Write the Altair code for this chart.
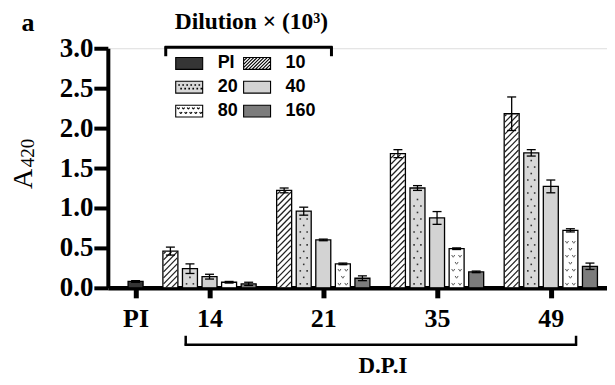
import altair as alt
import pandas as pd

# ---------------- data ----------------
groups = ["14", "21", "35", "49"]
dilutions = ["PI", "10", "20", "40", "80", "160"]
pi_value = 0.08
pi_error = 0.01
values = {
    "10": [0.46, 1.22, 1.68, 2.18],
    "20": [0.24, 0.96, 1.25, 1.69],
    "40": [0.14, 0.60, 0.875, 1.27],
    "80": [0.07, 0.30, 0.49, 0.72],
    "160": [0.05, 0.12, 0.20, 0.27],
}
errors = {
    "10": [0.05, 0.03, 0.05, 0.21],
    "20": [0.06, 0.05, 0.03, 0.04],
    "40": [0.03, 0.01, 0.08, 0.08],
    "80": [0.01, 0.01, 0.01, 0.02],
    "160": [0.02, 0.03, 0.01, 0.04],
}
fill_colors = ["#353535", "#ffffff", "#d8d8d8", "#d3d3d3", "#ffffff", "#7c7c7c"]

rows = [{"dil": "PI", "gi": -1, "di": 0, "value": pi_value, "err": pi_error}]
for d_i, d in enumerate(dilutions[1:]):
    for g_i, g in enumerate(groups):
        rows.append({"dil": d, "gi": g_i, "di": d_i, "value": values[d][g_i], "err": errors[d][g_i]})
df = pd.DataFrame(rows)

# ---------------- layout constants ----------------
W, H = 500, 240
XDOM = [0.15, 4.45]
PXU = W / (XDOM[1] - XDOM[0])   # px per x unit
PYU = H / 3.0                    # px per y unit
BW = 15                          # bar width px
STEP = 0.172                     # bar spacing in x units
PI_POS = 0.35

serif = "Liberation Serif"
sans = "Liberation Sans"

base = alt.Chart(df).transform_calculate(
    x=f"datum.dil == 'PI' ? {PI_POS} : datum.gi + 1 + (datum.di - 2) * {STEP}",
    lo="datum.value - datum.err",
    hi="datum.value + datum.err",
)

xscale = alt.Scale(domain=XDOM, nice=False, zero=False)
yscale = alt.Scale(domain=[0, 3], nice=False)

label_expr = "datum.value < 0.5 ? 'PI' : " + str(["", *groups]) + "[round(datum.value)]"

xaxis = alt.Axis(
    values=[PI_POS, 1, 2, 3, 4], labelExpr=label_expr, grid=False,
    domainWidth=4.5, domainColor="black", tickWidth=5, tickSize=10, tickColor="black",
    labelFont=serif, labelFontWeight="bold", labelFontSize=26, labelColor="black",
    labelPadding=8, labelOverlap=False,
    title="D.P.I", titleFont=serif, titleFontWeight="bold",
    titleFontSize=23, titleColor="black", titleX=275, titleY=67,
)
yaxis = alt.Axis(
    values=[0, 0.5, 1, 1.5, 2, 2.5, 3], format=".1f", grid=False, labelOverlap=False,
    domainWidth=4, domainColor="black", tickWidth=4, tickSize=14, tickColor="black",
    labelFont=serif, labelFontWeight="bold", labelFontSize=27, labelColor="black",
    labelPadding=1, title=None,
)


def X(f):
    return alt.X(f, scale=xscale, axis=xaxis)


def Y(f):
    return alt.Y(f, scale=yscale, axis=yaxis)


fill_scale = alt.Scale(domain=dilutions, range=fill_colors)
stroke_scale = alt.Scale(domain=dilutions, range=["black"] * len(dilutions))


def rect_path(hw, hh):
    return f"M{-hw},{-hh}H{hw}V{hh}H{-hw}Z"


HW, HH = 1.0, 0.44


def hatch_path():
    p = rect_path(HW, HH)
    s = 0.25
    c = -HW - 2 * HH
    while c < HW:
        x0 = max(c, -HW)
        x1 = min(c + 2 * HH, HW)
        if x1 > x0:
            y0 = HH - (x0 - c)
            y1 = HH - (x1 - c)
            p += f"M{x0:.3f},{y0:.3f}L{x1:.3f},{y1:.3f}"
        c += s
    return p


def dots_path():
    p = rect_path(HW, HH)
    for r, yy in enumerate([-0.18, 0.09]):
        for i in range(6):
            xx = -0.77 + 0.3 * i + (0.15 if r else 0)
            p += f"M{xx:.3f},{yy:.3f}h0.04v0.04h-0.04Z"
    return p


def wave_path():
    p = rect_path(HW, HH)
    for r, yy in enumerate([-0.21, 0.12]):
        for i in range(5):
            xx = -0.8 + 0.37 * i + (0.18 if r else 0)
            if xx > HW - 0.12:
                continue
            p += f"M{xx - 0.085:.3f},{yy - 0.06:.3f}Q{xx:.3f},{yy + 0.15:.3f} {xx + 0.085:.3f},{yy - 0.06:.3f}"
    return p


shape_range = [rect_path(HW, HH), hatch_path(), dots_path(), rect_path(HW, HH), wave_path(), rect_path(HW, HH)]
shape_scale = alt.Scale(domain=dilutions, range=shape_range)

legend = alt.Legend(
    title="Dilution × (10³)", orient="none", legendX=67, legendY=-38,
    columns=2, direction="horizontal", titleFont=serif, titleFontWeight="bold",
    titleFontSize=23.5, titleColor="black", titlePadding=15,
    labelFont=sans, labelFontWeight="bold", labelFontSize=18, labelColor="black",
    labelOffset=14, symbolSize=729, symbolStrokeWidth=1.1,
    rowPadding=-2.5, columnPadding=2, padding=0, symbolOpacity=1,
)

bars = base.mark_bar(size=BW, stroke="black", strokeWidth=1.3).encode(
    x=X("x:Q"), y=Y("value:Q"),
    fill=alt.Fill("dil:N", scale=fill_scale, legend=legend),
)

legend_pts = base.transform_filter("false").mark_point(filled=True, opacity=1, strokeWidth=1.1).encode(
    x=X("x:Q"), y=Y("value:Q"),
    fill=alt.Fill("dil:N", scale=fill_scale, legend=legend),
    shape=alt.Shape("dil:N", scale=shape_scale, legend=legend),
    stroke=alt.Stroke("dil:N", scale=stroke_scale, legend=legend),
)

# hatch (10)
hatch = base.transform_filter("datum.dil == '10'").transform_calculate(
    h=f"datum.value * {PYU}",
).transform_calculate(
    ks=f"sequence(0, ceil((datum.h + {BW}) / 6) + 1)"
).transform_flatten(["ks"], as_=["k"]).transform_calculate(
    y0=f"datum.k * 6 - {BW - 1}",
).transform_calculate(
    t0="max(0, -datum.y0)", t1=f"min({BW - 1}, datum.h - datum.y0 - 0.7)",
).transform_filter("datum.t1 > datum.t0 + 0.3").transform_calculate(
    xa=f"datum.x + (datum.t0 - {(BW - 1) / 2}) / {PXU}",
    ya=f"(datum.y0 + datum.t0) / {PYU}",
    xb=f"datum.x + (datum.t1 - {(BW - 1) / 2}) / {PXU}",
    yb=f"(datum.y0 + datum.t1) / {PYU}",
).mark_rule(color="#222222", strokeWidth=1.3).encode(
    x=X("xa:Q"), y=Y("ya:Q"), x2="xb:Q", y2="yb:Q"
)

# dots (20)
dots = base.transform_filter("datum.dil == '20'").transform_calculate(
    h=f"datum.value * {PYU}",
).transform_calculate(
    ks="sequence(0, max(0, floor((datum.h - 3) / 6.5)))"
).transform_flatten(["ks"], as_=["k"]).transform_calculate(
    cs="datum.k % 2 == 0 ? [-3.5, 3.5] : [0]"
).transform_flatten(["cs"], as_=["c"]).transform_calculate(
    px=f"datum.x + datum.c / {PXU}",
    py=f"(4 + datum.k * 6.5) / {PYU}",
).mark_square(size=2.5, color="#333333", opacity=1).encode(x=X("px:Q"), y=Y("py:Q"))

# waves (80)
wave_shape = "M-1,-0.6Q-0.5,0.3 0,0.9Q0.5,0.3 1,-0.6"
waves = base.transform_filter("datum.dil == '80'").transform_calculate(
    h=f"datum.value * {PYU}",
).transform_calculate(
    ks="sequence(0, max(0, floor((datum.h - 3) / 7)))"
).transform_flatten(["ks"], as_=["k"]).transform_calculate(
    cs="datum.k % 2 == 0 ? [-3.5, 3.5] : [0]"
).transform_flatten(["cs"], as_=["c"]).transform_calculate(
    px=f"datum.x + datum.c / {PXU}",
    py=f"(4 + datum.k * 7) / {PYU}",
).mark_point(shape=wave_shape, size=9, filled=False, stroke="#555555", strokeWidth=1, opacity=1).encode(
    x=X("px:Q"), y=Y("py:Q")
)

errbar = base.mark_rule(color="black", strokeWidth=1.3).encode(x=X("x:Q"), y=Y("lo:Q"), y2="hi:Q")
cap_hi = base.mark_tick(orient="horizontal", size=9, thickness=1.3, color="black", opacity=1).encode(x=X("x:Q"), y=Y("hi:Q"))
cap_lo = base.mark_tick(orient="horizontal", size=9, thickness=1.3, color="black", opacity=1).encode(x=X("x:Q"), y=Y("lo:Q"))

# decorations: brackets and labels (pixel positions relative to plot area)
one = alt.Chart(pd.DataFrame({"t": [0]}))
leg_bracket = alt.layer(
    one.mark_rule(color="black", strokeWidth=3).encode(x=alt.value(57), x2=alt.value(225), y=alt.value(-1)),
    one.mark_rule(color="black", strokeWidth=3).encode(x=alt.value(58), y=alt.value(-2), y2=alt.value(8)),
    one.mark_rule(color="black", strokeWidth=3).encode(x=alt.value(224), y=alt.value(-2), y2=alt.value(8)),
)
dpi_bracket = alt.layer(
    one.mark_rule(color="black", strokeWidth=2.5).encode(x=alt.value(77), x2=alt.value(470), y=alt.value(297)),
    one.mark_rule(color="black", strokeWidth=2.5).encode(x=alt.value(78), y=alt.value(288), y2=alt.value(298)),
    one.mark_rule(color="black", strokeWidth=2.5).encode(x=alt.value(469), y=alt.value(288), y2=alt.value(298)),
)
panel = one.mark_text(font=serif, fontWeight="bold", fontSize=26, color="black", align="center", baseline="middle").encode(
    x=alt.value(-80), y=alt.value(-25), text=alt.value("a")
)
ytitle_a = one.mark_text(font=serif, fontSize=28, color="black", angle=270, align="center", baseline="middle").encode(
    x=alt.value(-84), y=alt.value(131), text=alt.value("A")
)
ytitle_sub = one.mark_text(font=serif, fontSize=19, color="black", angle=270, align="center", baseline="middle").encode(
    x=alt.value(-80), y=alt.value(105), text=alt.value("420")
)

chart = alt.layer(
    bars, hatch, dots, waves, errbar, cap_hi, cap_lo, legend_pts,
    leg_bracket, dpi_bracket, panel, ytitle_a, ytitle_sub,
).properties(
    width=W, height=H, autosize=alt.AutoSizeParams(type="none"),
    padding={"left": 100, "top": 40, "right": 0, "bottom": 89},
).configure_view(stroke=None).configure(background="white")

chart.save("out.html", embed_options={"renderer": "svg", "actions": False})
